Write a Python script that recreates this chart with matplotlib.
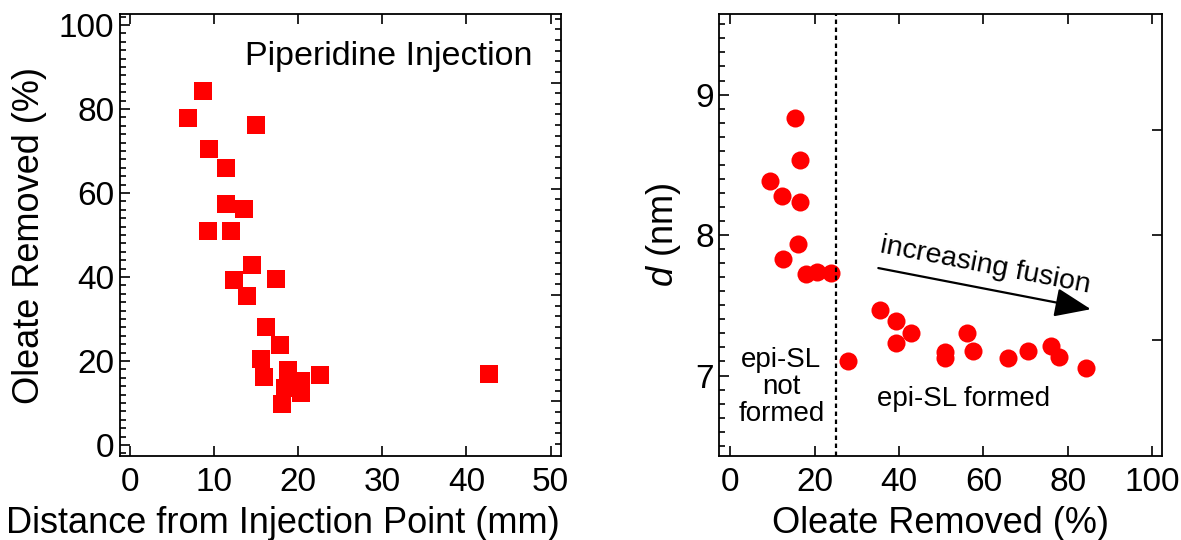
import numpy as np
import matplotlib
matplotlib.use("Agg")
import matplotlib.pyplot as plt
from matplotlib.ticker import MultipleLocator, FixedLocator, NullLocator

plt.rcParams["font.family"] = ["Liberation Sans", "DejaVu Sans"]
plt.rcParams["mathtext.fontset"] = "custom"
plt.rcParams["mathtext.it"] = "Liberation Sans:italic"
plt.rcParams["mathtext.rm"] = "Liberation Sans"

# left panel: oleate removal vs distance from the injection point
distance_mm = [6.9, 8.7, 14.95, 9.45, 11.45, 11.4, 13.6, 9.3, 12.05, 14.5, 12.4, 17.4,
               13.9, 16.2, 17.8, 15.6, 15.9, 18.8, 22.6, 20.4, 20.4, 18.4, 18.1, 42.7]
oleate_removed = [77.8, 84.4, 76.1, 70.5, 65.9, 57.5, 56.3, 50.9, 50.9, 42.8, 39.2, 39.5,
                  35.6, 28.0, 23.9, 20.4, 16.3, 17.9, 16.6, 15.2, 12.4, 13.5, 9.8, 17.0]

# right panel: superlattice spacing vs oleate removal
oleate_pct = [15.3, 16.5, 9.5, 12.2, 16.6, 16.0, 12.5, 17.9, 20.6, 23.9, 28.0, 35.5,
              39.3, 39.4, 42.8, 51.0, 51.0, 56.2, 57.6, 65.9, 70.6, 76.0, 77.9, 84.3]
d_nm = [8.83, 8.535, 8.385, 8.28, 8.238, 7.934, 7.832, 7.726, 7.738, 7.732, 7.104, 7.463,
        7.387, 7.235, 7.305, 7.168, 7.128, 7.30, 7.176, 7.123, 7.176, 7.212, 7.133, 7.053]

RED = "#ff0000"
TICK_FS = 24
LABEL_FS = 26

fig = plt.figure(figsize=(11.81, 5.40), dpi=100)
ax1 = fig.add_axes([0.1014, 0.1563, 0.3733, 0.8169])
ax2 = fig.add_axes([0.6091, 0.1563, 0.3749, 0.8169])


def style(ax):
    for sp in ax.spines.values():
        sp.set_linewidth(1.3)
    ax.tick_params(which="both", direction="in", top=True, right=False,
                   width=1.2, labelsize=TICK_FS)
    ax.tick_params(which="major", length=7.5)
    ax.tick_params(which="minor", length=4)
    ax.tick_params(axis="x", pad=8)
    ax.tick_params(axis="y", pad=4)


def right_ticks(ax, major, minor):
    # separate tick set drawn on the right spine
    tw = ax.twinx()
    tw.set_ylim(ax.get_ylim())
    tw.yaxis.set_major_locator(FixedLocator(major))
    tw.yaxis.set_minor_locator(FixedLocator(minor) if minor is not None else NullLocator())
    tw.tick_params(which="both", direction="in", width=1.2, labelright=False)
    tw.tick_params(which="major", length=7.5)
    tw.tick_params(which="minor", length=4)
    for sp in tw.spines.values():
        sp.set_visible(False)


# ---- left panel
ax1.plot(distance_mm, oleate_removed, "s", color=RED, ms=13.5, mec=RED, mew=0)
ax1.set_xlim(-1.2, 51.2)
ax1.set_ylim(-2.5, 102.5)
ax1.xaxis.set_major_locator(MultipleLocator(10))
ax1.xaxis.set_minor_locator(NullLocator())
ax1.yaxis.set_major_locator(MultipleLocator(20))
ax1.yaxis.set_minor_locator(MultipleLocator(2))
style(ax1)
step = 25.3
right_ticks(ax1, np.arange(10.4, 102, step), np.arange(10.4 - 4 * step / 10, 102.5, step / 10))
ax1.set_xlabel("Distance from Injection Point (mm)", fontsize=LABEL_FS)
ax1.set_ylabel("Oleate Removed (%)", fontsize=LABEL_FS)
ax1.xaxis.set_label_coords(0.37, -0.115)
ax1.yaxis.set_label_coords(-0.165, 0.5)
ax1.text(30.8, 92.4, "Piperidine Injection", fontsize=24.5, ha="center", va="center")

# ---- right panel
ax2.plot(oleate_pct, d_nm, "o", color=RED, ms=13, mec=RED, mew=0)
ax2.set_xlim(-2.6, 102.4)
ax2.set_ylim(6.43, 9.57)
ax2.xaxis.set_major_locator(MultipleLocator(20))
ax2.xaxis.set_minor_locator(NullLocator())
ax2.yaxis.set_major_locator(MultipleLocator(1))
ax2.yaxis.set_minor_locator(MultipleLocator(0.1))
style(ax2)
right_ticks(ax2, [7.25, 8.0, 8.75], None)
ax2.set_xlabel("Oleate Removed (%)", fontsize=LABEL_FS)
ax2.set_ylabel(r"$\mathit{d}$ (nm)", fontsize=LABEL_FS)
ax2.xaxis.set_label_coords(0.5, -0.115)
ax2.yaxis.set_label_coords(-0.082, 0.5)

ax2.axvline(25.0, color="k", lw=1.6, ls=(0, (2, 1.6)))
ax2.text(12.1, 6.92, "epi-SL\nnot\nformed", fontsize=20, ha="center", va="center",
         linespacing=1.05)
ax2.text(55.2, 6.836, "epi-SL formed", fontsize=20, ha="center", va="center")

start = (35.1, 7.765)
end = (85.5, 7.472)
ax2.annotate("", xy=end, xytext=start,
             arrowprops=dict(arrowstyle="-|>,head_length=0.75,head_width=0.3",
                             color="k", lw=1.6, mutation_scale=30,
                             shrinkA=0, shrinkB=0))
p0 = ax2.transData.transform(start)
p1 = ax2.transData.transform(end)
angle = np.degrees(np.arctan2(p1[1] - p0[1], p1[0] - p0[0]))
ax2.text(60.4, 7.78, "increasing fusion", fontsize=20.5, ha="center", va="center",
         rotation=angle, rotation_mode="anchor")

fig.savefig("out.png", dpi=100)
